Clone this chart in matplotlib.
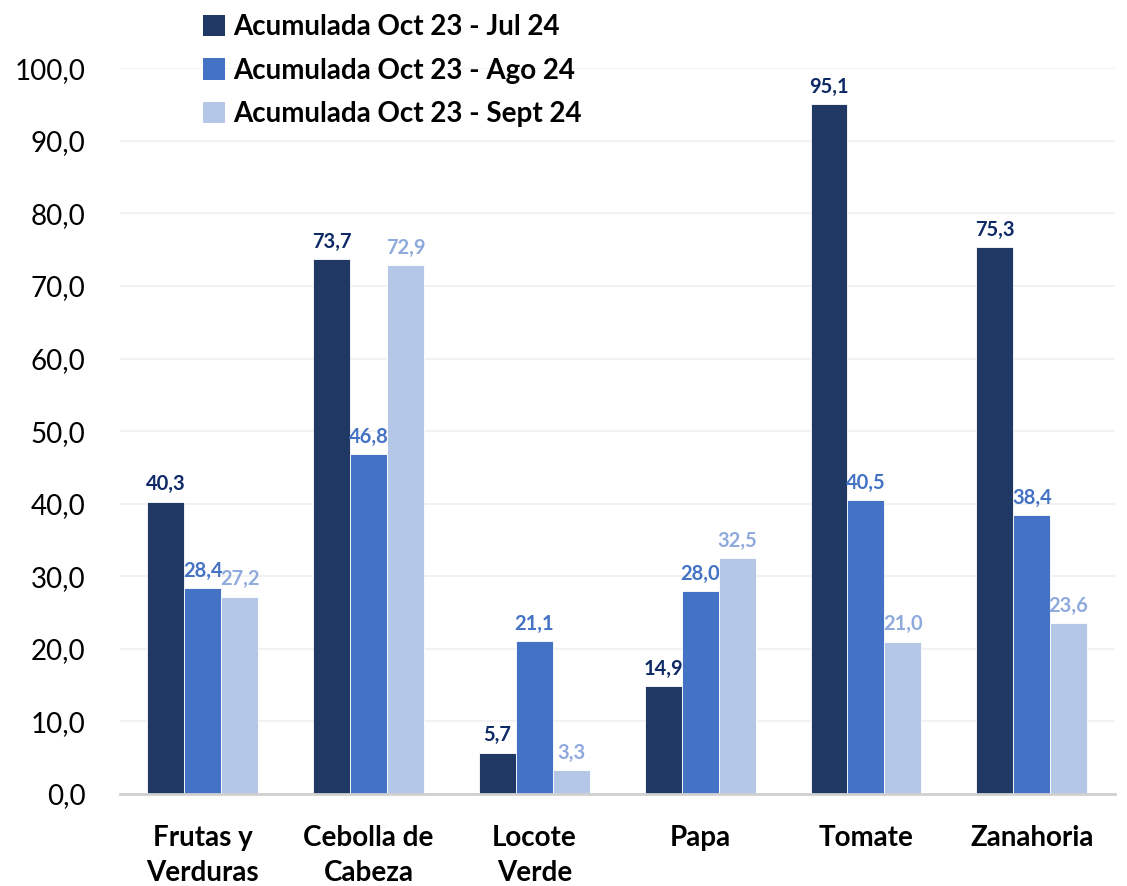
import matplotlib.pyplot as plt
import numpy as np
from matplotlib.patches import Patch

# categories and series
categorias = ["Frutas y\nVerduras", "Cebolla de\nCabeza", "Locote\nVerde", "Papa", "Tomate", "Zanahoria"]
series = ["Acumulada Oct 23 - Jul 24", "Acumulada Oct 23 - Ago 24", "Acumulada Oct 23 - Sept 24"]
jul24 = [40.3, 73.7, 5.7, 14.9, 95.1, 75.3]
ago24 = [28.4, 46.8, 21.1, 28.0, 40.5, 38.4]
sep24 = [27.2, 72.9, 3.3, 32.5, 21.0, 23.6]

colores = ["#203864", "#4472C4", "#B4C7E7"]
colores_txt = ["#0E2A66", "#4472C4", "#8FAADC"]

fig = plt.figure(figsize=(11.27, 8.86), dpi=100)
ax = fig.add_axes([0.1065, 0.1038, 0.8825, 0.8192])

x = np.arange(len(categorias))
w = 0.223
for i, vals in enumerate([jul24, ago24, sep24]):
    pos = x + (i - 1) * w
    ax.bar(pos, vals, width=w, color=colores[i], edgecolor="white", linewidth=0.6, zorder=3)
    for px, v in zip(pos, vals):
        ax.text(px, v + 1.0, f"{v:.1f}".replace(".", ","), ha="center", va="bottom",
                fontsize=14.5, fontweight="bold", color=colores_txt[i], family="Lato")

ax.set_xlim(-0.5, len(categorias) - 0.5)
ax.set_ylim(0, 100)
ax.set_yticks(np.arange(0, 101, 10))
ax.set_yticklabels([f"{t:.1f}".replace(".", ",") for t in np.arange(0, 101, 10)],
                   fontsize=20, family="Lato")
ax.set_xticks(x)
ax.set_xticklabels(categorias, fontsize=20, family="Lato", fontweight="bold",
                   linespacing=1.45)
ax.tick_params(axis="both", length=0)
ax.tick_params(axis="y", pad=25)
ax.tick_params(axis="x", pad=22)
ax.grid(axis="y", color="#F0F0F0", linewidth=1.2, zorder=0)
for s in ["top", "right", "left"]:
    ax.spines[s].set_visible(False)
ax.spines["bottom"].set_color("#D0D0D0")
ax.spines["bottom"].set_linewidth(2)
ax.spines["bottom"].set_zorder(4)

handles = [Patch(facecolor=c) for c in colores]
leg = fig.legend(handles, series, loc="upper left", bbox_to_anchor=(0.158, 1.012),
                 frameon=False, prop={"family": "Lato", "size": 20, "weight": "bold"},
                 handlelength=0.8, handleheight=0.8, handletextpad=0.3, labelspacing=0.62)

fig.savefig("out.png", dpi=100)
